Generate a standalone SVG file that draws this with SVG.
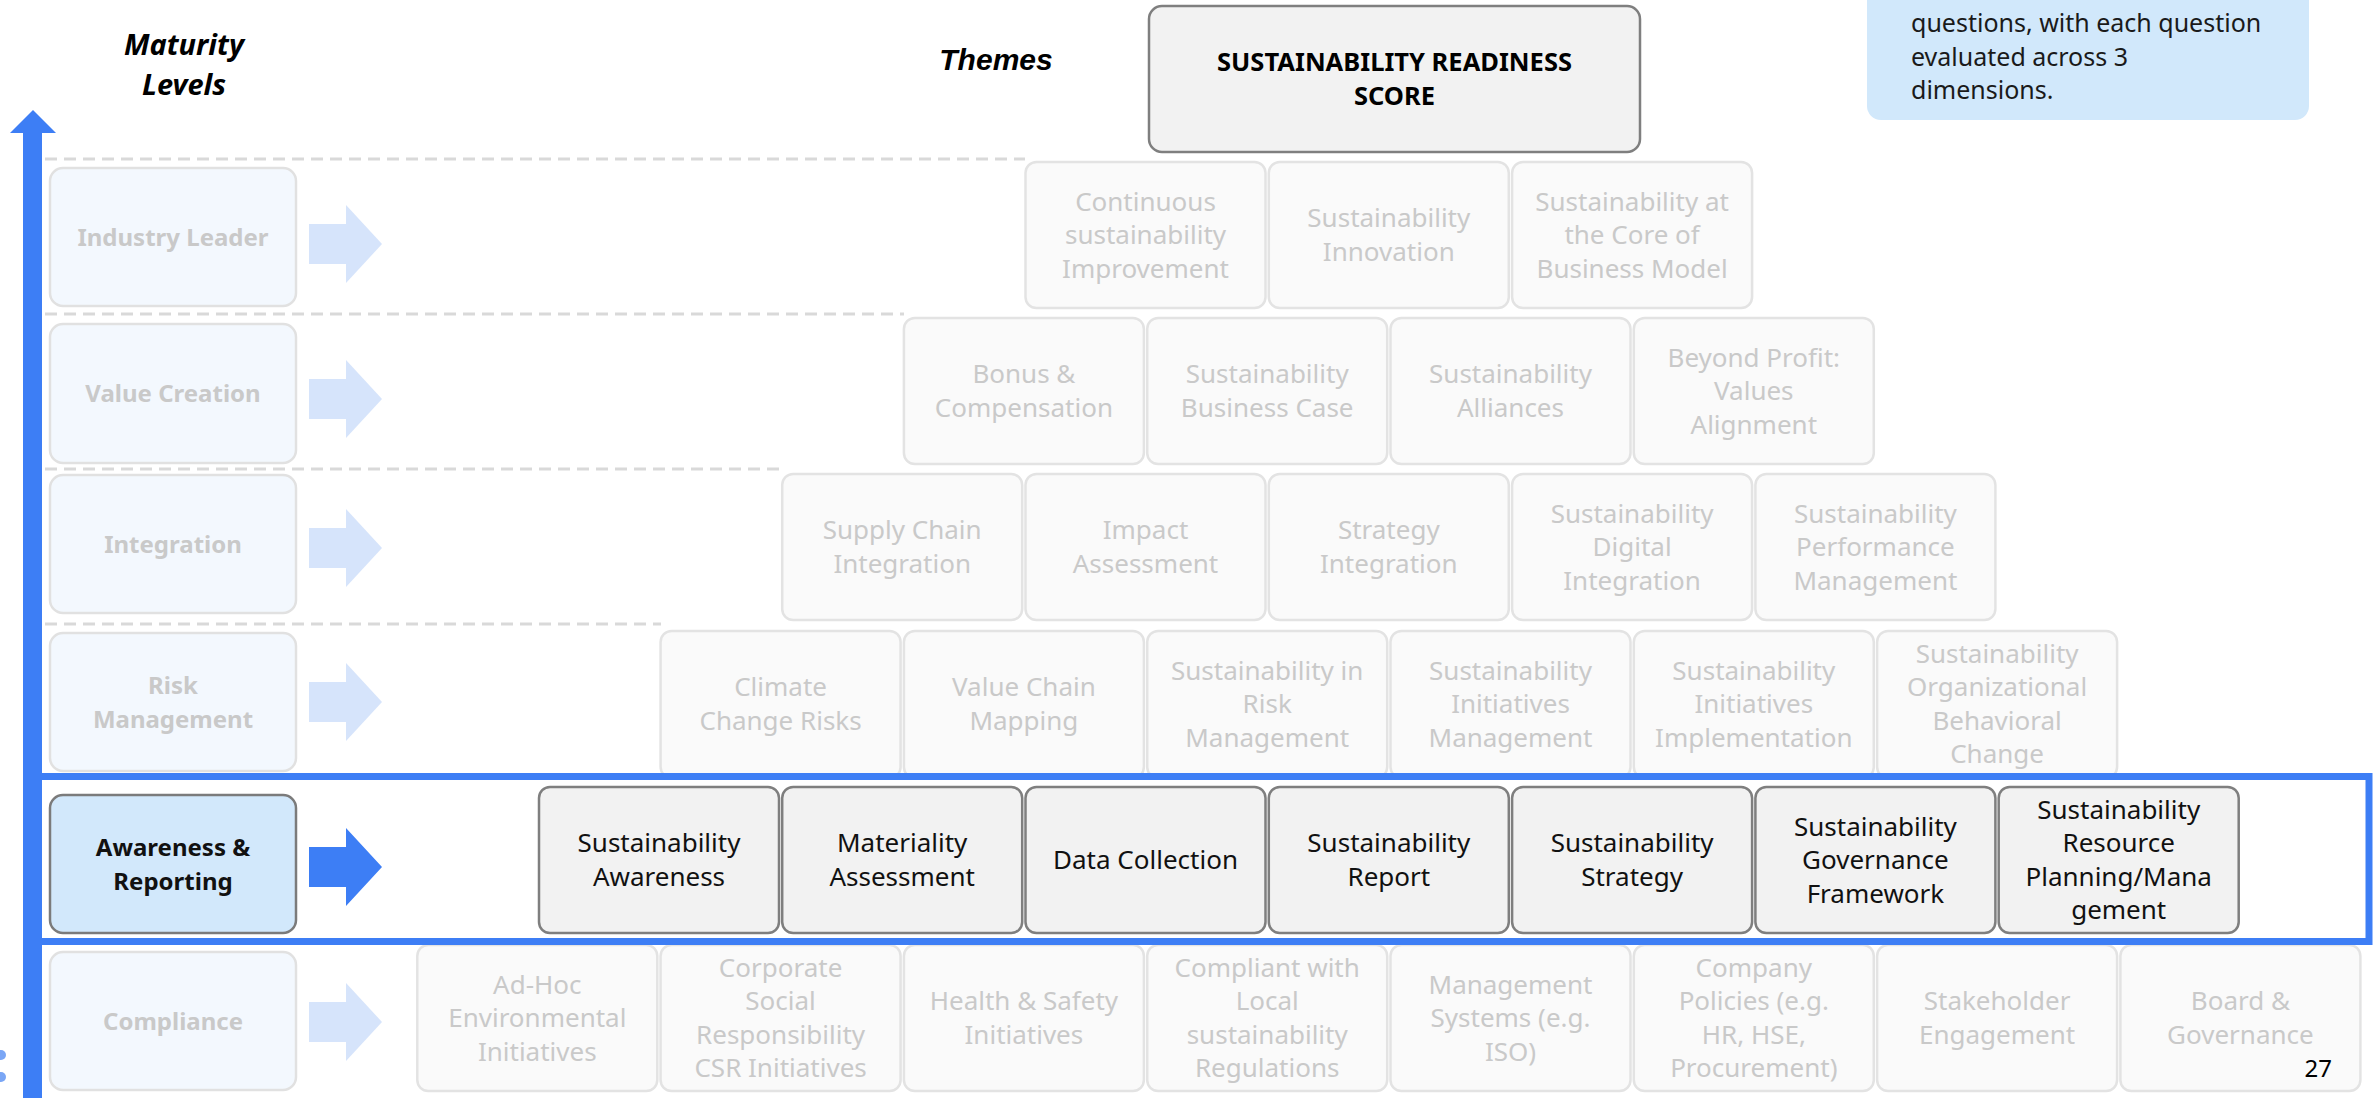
<svg xmlns="http://www.w3.org/2000/svg" width="2374" height="1098" viewBox="0 0 2374 1098">
  <defs>
    <style>
      .bg { fill: #ffffff; }
      .dash { stroke: #d9d9d9; stroke-width: 3; stroke-dasharray: 12 7; fill: none; }
      .box-f { fill: #fafafa; stroke: #e3e3e3; stroke-width: 2.5; }
      .box-a { fill: #f2f2f2; stroke: #7f7f7f; stroke-width: 2.5; }
      .lvl-f { fill: #f3f8fe; stroke: #e1e1e1; stroke-width: 2.5; }
      .lvl-a { fill: #d2e8fb; stroke: #7b7b7b; stroke-width: 2.5; }
      .t { font-family: "Noto Sans", "Liberation Sans", sans-serif; font-size: 26px; text-anchor: middle; }
      .t-f { fill: #c9c9c9; }
      .t-a { fill: #111111; }
      .lbl { font-family: "Noto Sans", "Liberation Sans", sans-serif; font-size: 24px; font-weight: bold; text-anchor: middle; }
      .arr-f { fill: #d6e4fb; }
      .arr-a { fill: #3d7ef5; }
      .hl { fill: none; stroke: #3d7ef5; stroke-width: 7; }
      .head { font-family: "Noto Sans", "Liberation Sans", sans-serif; font-weight: bold; font-style: italic; font-size: 29px; text-anchor: middle; fill: #000; }
      .score { font-family: "Noto Sans", "Liberation Sans", sans-serif; font-weight: bold; font-size: 25.5px; text-anchor: middle; fill: #000; }
    </style>
    <!-- block arrow pointing right, centred on y = 0 -->
    <path id="blockArrow" d="M309,-20 H346 V-39 L382,0 L346,39 V20 H309 Z"/>
  </defs>

  <rect class="bg" x="0" y="0" width="2374" height="1098"/>

  <!-- headings -->
  <g id="heading-maturity">
    <text class="head" x="184" y="55">Maturity</text>
    <text class="head" x="184" y="95">Levels</text>
  </g>
  <g id="heading-themes">
    <text x="996" y="70" style="font-family: 'Liberation Sans', Arial, sans-serif; font-weight: bold; font-style: italic; font-size: 30px; text-anchor: middle;">Themes</text>
  </g>

  <!-- score box -->
  <g id="score">
    <rect class="box-a" x="1149" y="6" width="491" height="146" rx="13"/>
    <text class="score" x="1394.5" y="71">SUSTAINABILITY READINESS</text>
    <text class="score" x="1394.5" y="105">SCORE</text>
  </g>

  <!-- note box -->
  <g id="note">
    <rect x="1867" y="-40" width="442" height="160" rx="14" fill="#d1e8fb"/>
    <g style="font-family: 'Noto Sans', 'Liberation Sans', sans-serif; font-size: 25px; fill: #1a1a1a;">
      <text x="1911" y="32">questions, with each question</text>
      <text x="1911" y="65.5">evaluated across 3</text>
      <text x="1911" y="99">dimensions.</text>
    </g>
  </g>

  <!-- row separators -->
  <g id="separators">
    <line class="dash" x1="45" y1="159" x2="1025" y2="159"/>
    <line class="dash" x1="45" y1="314" x2="904" y2="314"/>
    <line class="dash" x1="45" y1="469" x2="782" y2="469"/>
    <line class="dash" x1="45" y1="624" x2="661" y2="624"/>
  </g>

  <!-- level: Industry Leader -->
  <g id="row-industry-leader">
    <g id="theme-continuous-improvement"><rect class="box-f" x="1025.5" y="162" width="240" height="146" rx="11"/>
      <text class="t t-f"><tspan x="1145.5" y="210.5">Continuous</tspan><tspan x="1145.5" y="244">sustainability</tspan><tspan x="1145.5" y="277.5">Improvement</tspan></text></g>
    <g id="theme-innovation"><rect class="box-f" x="1268.8" y="162" width="240" height="146" rx="11"/>
      <text class="t t-f"><tspan x="1388.8" y="227.25">Sustainability</tspan><tspan x="1388.8" y="260.75">Innovation</tspan></text></g>
    <g id="theme-core-business"><rect class="box-f" x="1512.1" y="162" width="240" height="146" rx="11"/>
      <text class="t t-f"><tspan x="1632.1" y="210.5">Sustainability at</tspan><tspan x="1632.1" y="244">the Core of</tspan><tspan x="1632.1" y="277.5">Business Model</tspan></text></g>
  </g>

  <!-- level: Value Creation -->
  <g id="row-value-creation">
    <g id="theme-bonus"><rect class="box-f" x="903.9" y="318" width="240" height="146" rx="11"/>
      <text class="t t-f"><tspan x="1023.9" y="383.25">Bonus &amp;</tspan><tspan x="1023.9" y="416.75">Compensation</tspan></text></g>
    <g id="theme-business-case"><rect class="box-f" x="1147.2" y="318" width="240" height="146" rx="11"/>
      <text class="t t-f"><tspan x="1267.2" y="383.25">Sustainability</tspan><tspan x="1267.2" y="416.75">Business Case</tspan></text></g>
    <g id="theme-alliances"><rect class="box-f" x="1390.5" y="318" width="240" height="146" rx="11"/>
      <text class="t t-f"><tspan x="1510.5" y="383.25">Sustainability</tspan><tspan x="1510.5" y="416.75">Alliances</tspan></text></g>
    <g id="theme-beyond-profit"><rect class="box-f" x="1633.8" y="318" width="240" height="146" rx="11"/>
      <text class="t t-f"><tspan x="1753.8" y="366.5">Beyond Profit:</tspan><tspan x="1753.8" y="400">Values</tspan><tspan x="1753.8" y="433.5">Alignment</tspan></text></g>
  </g>

  <!-- level: Integration -->
  <g id="row-integration">
    <g id="theme-supply-chain"><rect class="box-f" x="782.2" y="474" width="240" height="146" rx="11"/>
      <text class="t t-f"><tspan x="902.2" y="539.25">Supply Chain</tspan><tspan x="902.2" y="572.75">Integration</tspan></text></g>
    <g id="theme-impact"><rect class="box-f" x="1025.5" y="474" width="240" height="146" rx="11"/>
      <text class="t t-f"><tspan x="1145.5" y="539.25">Impact</tspan><tspan x="1145.5" y="572.75">Assessment</tspan></text></g>
    <g id="theme-strategy-integration"><rect class="box-f" x="1268.8" y="474" width="240" height="146" rx="11"/>
      <text class="t t-f"><tspan x="1388.8" y="539.25">Strategy</tspan><tspan x="1388.8" y="572.75">Integration</tspan></text></g>
    <g id="theme-digital"><rect class="box-f" x="1512.1" y="474" width="240" height="146" rx="11"/>
      <text class="t t-f"><tspan x="1632.1" y="522.5">Sustainability</tspan><tspan x="1632.1" y="556">Digital</tspan><tspan x="1632.1" y="589.5">Integration</tspan></text></g>
    <g id="theme-performance"><rect class="box-f" x="1755.4" y="474" width="240" height="146" rx="11"/>
      <text class="t t-f"><tspan x="1875.4" y="522.5">Sustainability</tspan><tspan x="1875.4" y="556">Performance</tspan><tspan x="1875.4" y="589.5">Management</tspan></text></g>
  </g>

  <!-- level: Risk Management -->
  <g id="row-risk-management">
    <g id="theme-climate"><rect class="box-f" x="660.6" y="631" width="240" height="147" rx="11"/>
      <text class="t t-f"><tspan x="780.6" y="696.25">Climate</tspan><tspan x="780.6" y="729.75">Change Risks</tspan></text></g>
    <g id="theme-value-chain"><rect class="box-f" x="903.9" y="631" width="240" height="147" rx="11"/>
      <text class="t t-f"><tspan x="1023.9" y="696.25">Value Chain</tspan><tspan x="1023.9" y="729.75">Mapping</tspan></text></g>
    <g id="theme-risk"><rect class="box-f" x="1147.2" y="631" width="240" height="147" rx="11"/>
      <text class="t t-f"><tspan x="1267.2" y="679.5">Sustainability in</tspan><tspan x="1267.2" y="713">Risk</tspan><tspan x="1267.2" y="746.5">Management</tspan></text></g>
    <g id="theme-initiatives-mgmt"><rect class="box-f" x="1390.5" y="631" width="240" height="147" rx="11"/>
      <text class="t t-f"><tspan x="1510.5" y="679.5">Sustainability</tspan><tspan x="1510.5" y="713">Initiatives</tspan><tspan x="1510.5" y="746.5">Management</tspan></text></g>
    <g id="theme-initiatives-impl"><rect class="box-f" x="1633.8" y="631" width="240" height="147" rx="11"/>
      <text class="t t-f"><tspan x="1753.8" y="679.5">Sustainability</tspan><tspan x="1753.8" y="713">Initiatives</tspan><tspan x="1753.8" y="746.5">Implementation</tspan></text></g>
    <g id="theme-behavioral"><rect class="box-f" x="1877.1" y="631" width="240" height="147" rx="11"/>
      <text class="t t-f"><tspan x="1997.1" y="662.75">Sustainability</tspan><tspan x="1997.1" y="696.25">Organizational</tspan><tspan x="1997.1" y="729.75">Behavioral</tspan><tspan x="1997.1" y="763.25">Change</tspan></text></g>
  </g>

  <!-- level: Awareness & Reporting (current) -->
  <g id="row-awareness-reporting">
    <g id="theme-awareness"><rect class="box-a" x="539" y="787" width="240" height="146" rx="11"/>
      <text class="t t-a"><tspan x="659" y="852.25">Sustainability</tspan><tspan x="659" y="885.75">Awareness</tspan></text></g>
    <g id="theme-materiality"><rect class="box-a" x="782.2" y="787" width="240" height="146" rx="11"/>
      <text class="t t-a"><tspan x="902.2" y="852.25">Materiality</tspan><tspan x="902.2" y="885.75">Assessment</tspan></text></g>
    <g id="theme-data"><rect class="box-a" x="1025.5" y="787" width="240" height="146" rx="11"/>
      <text class="t t-a"><tspan x="1145.5" y="869">Data Collection</tspan></text></g>
    <g id="theme-report"><rect class="box-a" x="1268.8" y="787" width="240" height="146" rx="11"/>
      <text class="t t-a"><tspan x="1388.8" y="852.25">Sustainability</tspan><tspan x="1388.8" y="885.75">Report</tspan></text></g>
    <g id="theme-strategy"><rect class="box-a" x="1512.1" y="787" width="240" height="146" rx="11"/>
      <text class="t t-a"><tspan x="1632.1" y="852.25">Sustainability</tspan><tspan x="1632.1" y="885.75">Strategy</tspan></text></g>
    <g id="theme-governance-framework"><rect class="box-a" x="1755.4" y="787" width="240" height="146" rx="11"/>
      <text class="t t-a"><tspan x="1875.4" y="835.5">Sustainability</tspan><tspan x="1875.4" y="869">Governance</tspan><tspan x="1875.4" y="902.5">Framework</tspan></text></g>
    <g id="theme-resource"><rect class="box-a" x="1998.7" y="787" width="240" height="146" rx="11"/>
      <text class="t t-a"><tspan x="2118.7" y="818.75">Sustainability</tspan><tspan x="2118.7" y="852.25">Resource</tspan><tspan x="2118.7" y="885.75">Planning/Mana</tspan><tspan x="2118.7" y="919.25">gement</tspan></text></g>
  </g>

  <!-- level: Compliance -->
  <g id="row-compliance">
    <g id="theme-adhoc"><rect class="box-f" x="417.3" y="945" width="240" height="146" rx="11"/>
      <text class="t t-f"><tspan x="537.3" y="993.5">Ad-Hoc</tspan><tspan x="537.3" y="1027">Environmental</tspan><tspan x="537.3" y="1060.5">Initiatives</tspan></text></g>
    <g id="theme-csr"><rect class="box-f" x="660.6" y="945" width="240" height="146" rx="11"/>
      <text class="t t-f"><tspan x="780.6" y="976.75">Corporate</tspan><tspan x="780.6" y="1010.25">Social</tspan><tspan x="780.6" y="1043.75">Responsibility</tspan><tspan x="780.6" y="1077.25">CSR Initiatives</tspan></text></g>
    <g id="theme-health-safety"><rect class="box-f" x="903.9" y="945" width="240" height="146" rx="11"/>
      <text class="t t-f"><tspan x="1023.9" y="1010.25">Health &amp; Safety</tspan><tspan x="1023.9" y="1043.75">Initiatives</tspan></text></g>
    <g id="theme-local-regulations"><rect class="box-f" x="1147.2" y="945" width="240" height="146" rx="11"/>
      <text class="t t-f"><tspan x="1267.2" y="976.75">Compliant with</tspan><tspan x="1267.2" y="1010.25">Local</tspan><tspan x="1267.2" y="1043.75">sustainability</tspan><tspan x="1267.2" y="1077.25">Regulations</tspan></text></g>
    <g id="theme-management-systems"><rect class="box-f" x="1390.5" y="945" width="240" height="146" rx="11"/>
      <text class="t t-f"><tspan x="1510.5" y="993.5">Management</tspan><tspan x="1510.5" y="1027">Systems (e.g.</tspan><tspan x="1510.5" y="1060.5">ISO)</tspan></text></g>
    <g id="theme-company-policies"><rect class="box-f" x="1633.8" y="945" width="240" height="146" rx="11"/>
      <text class="t t-f"><tspan x="1753.8" y="976.75">Company</tspan><tspan x="1753.8" y="1010.25">Policies (e.g.</tspan><tspan x="1753.8" y="1043.75">HR, HSE,</tspan><tspan x="1753.8" y="1077.25">Procurement)</tspan></text></g>
    <g id="theme-stakeholder"><rect class="box-f" x="1877.1" y="945" width="240" height="146" rx="11"/>
      <text class="t t-f"><tspan x="1997.1" y="1010.25">Stakeholder</tspan><tspan x="1997.1" y="1043.75">Engagement</tspan></text></g>
    <g id="theme-board"><rect class="box-f" x="2120.4" y="945" width="240" height="146" rx="11"/>
      <text class="t t-f"><tspan x="2240.4" y="1010.25">Board &amp;</tspan><tspan x="2240.4" y="1043.75">Governance</tspan></text></g>
  </g>

  <!-- maturity level labels -->
  <g id="level-industry-leader">
    <rect class="lvl-f" x="50" y="168" width="246" height="138" rx="13"/>
    <text class="lbl t-f" x="173" y="245.5">Industry Leader</text>
  </g>
  <g id="level-value-creation">
    <rect class="lvl-f" x="50" y="324" width="246" height="139" rx="13"/>
    <text class="lbl t-f" x="173" y="402">Value Creation</text>
  </g>
  <g id="level-integration">
    <rect class="lvl-f" x="50" y="475" width="246" height="138" rx="13"/>
    <text class="lbl t-f" x="173" y="552.5">Integration</text>
  </g>
  <g id="level-risk-management">
    <rect class="lvl-f" x="50" y="633" width="246" height="138" rx="13"/>
    <text class="lbl t-f"><tspan x="173" y="693.5">Risk</tspan><tspan x="173" y="727.5">Management</tspan></text>
  </g>
  <g id="level-awareness-reporting">
    <rect class="lvl-a" x="50" y="795" width="246" height="138" rx="13"/>
    <text class="lbl t-a"><tspan x="173" y="855.5">Awareness &amp;</tspan><tspan x="173" y="889.5">Reporting</tspan></text>
  </g>
  <g id="level-compliance">
    <rect class="lvl-f" x="50" y="952" width="246" height="138" rx="13"/>
    <text class="lbl t-f" x="173" y="1029.5">Compliance</text>
  </g>

  <!-- connectors: level arrows, current-level frame, maturity axis -->
  <g id="connectors">
    <use href="#blockArrow" class="arr-f" transform="translate(0,244)"/>
    <use href="#blockArrow" class="arr-f" transform="translate(0,399)"/>
    <use href="#blockArrow" class="arr-f" transform="translate(0,548)"/>
    <use href="#blockArrow" class="arr-f" transform="translate(0,702)"/>
    <use href="#blockArrow" class="arr-a" transform="translate(0,867)"/>
    <use href="#blockArrow" class="arr-f" transform="translate(0,1022)"/>
    <rect class="hl" x="38" y="776.5" width="2331" height="165"/>
    <path class="arr-a" d="M23,1098 V133 H10 L33,110 L56,133 H42 V1098 Z"/>
  </g>

  <!-- small marks at the left edge -->
  <g id="edge-marks" fill="#7aa6f5">
    <circle cx="1" cy="1055" r="5"/>
    <circle cx="1" cy="1077" r="5"/>
  </g>

  <!-- page number -->
  <text id="page-number" x="2332" y="1077" style="font-family: 'Noto Sans', 'Liberation Sans', sans-serif; font-size: 24px; text-anchor: end; fill: #000;">27</text>
</svg>
